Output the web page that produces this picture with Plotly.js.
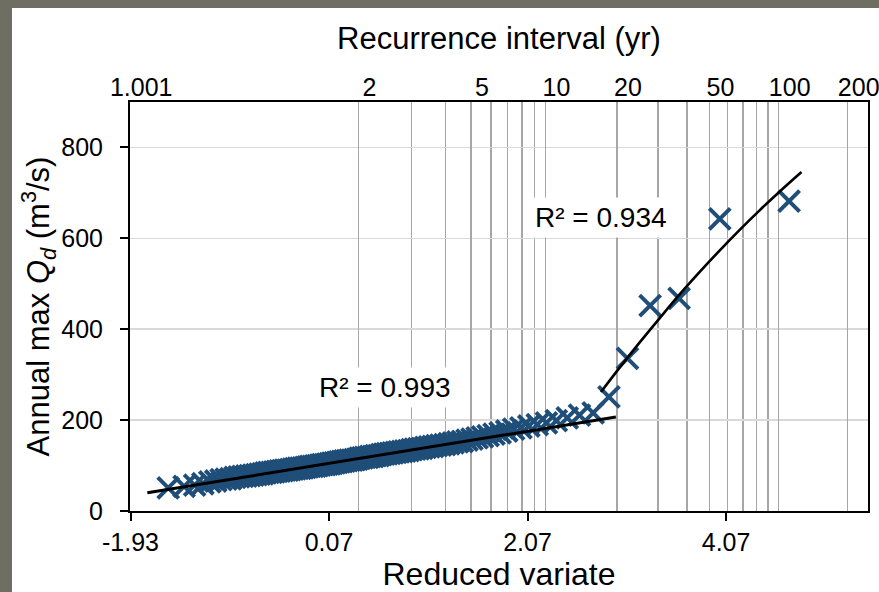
<!DOCTYPE html>
<html><head><meta charset="utf-8">
<script src="https://cdn.plot.ly/plotly-3.0.1.min.js"></script>
<style>
html,body{margin:0;padding:0;background:#6e6e62;width:879px;height:592px;overflow:hidden}
#chart{position:absolute;left:12px;top:8px;width:867px;height:584px;background:#fff}
</style></head><body><div id="chart"></div>
<script>
// Gumbel reduced variate of each ranked annual maximum
const reducedVariate = [-1.550,-1.390,-1.284,-1.201,-1.131,-1.071,-1.017,-0.967,-0.921,-0.878,
-0.838,-0.800,-0.763,-0.728,-0.694,-0.661,-0.629,-0.598,-0.568,-0.539,
-0.510,-0.482,-0.454,-0.426,-0.399,-0.373,-0.346,-0.320,-0.294,-0.269,
-0.243,-0.218,-0.193,-0.168,-0.143,-0.119,-0.094,-0.069,-0.045,-0.020,
0.004,0.029,0.053,0.078,0.102,0.127,0.152,0.176,0.201,0.226,
0.251,0.277,0.302,0.328,0.354,0.380,0.406,0.432,0.459,0.486,
0.513,0.541,0.568,0.597,0.625,0.654,0.684,0.713,0.744,0.774,
0.806,0.837,0.870,0.903,0.936,0.971,1.006,1.042,1.079,1.116,
1.155,1.195,1.236,1.278,1.321,1.366,1.412,1.460,1.510,1.562,
1.616,1.673,1.732,1.794,1.860,1.930,2.004,2.083,2.168,2.260,
2.360,2.470,2.593,2.731,2.890,3.077,3.305,3.597,4.007,4.705];
// Annual max discharge Qd (m3/s)
const annualMaxQ = [51,54,57,60,64,66,69,70,71,74,
75,76,77,78,79,80,81,82,84,85,
85,86,87,88,89,90,90,91,92,93,
94,94,95,96,97,98,98,99,100,101,
102,102,103,104,105,106,107,108,109,110,
111,112,112,113,114,116,117,118,118,120,
120,122,122,124,125,126,127,128,129,130,
131,132,133,135,136,137,138,140,141,142,
144,145,146,148,150,152,153,156,158,161,
163,166,169,172,176,180,183,187,190,194,
199,205,211,216,251,336,452,468,643,682];
// Trendlines
const lowerTrendX = [-1.76, 2.96];
const lowerTrendY = [40, 207];
const upperTrendX = [2.81, 3.0, 3.2, 3.4, 3.6, 3.8, 4.0, 4.2, 4.4, 4.6, 4.83];
const upperTrendY = [262, 316, 371, 424, 476, 525, 572, 617, 660, 701, 746];
const lowerR2Label = "R² = 0.993";
const upperR2Label = "R² = 0.934";
const lowerR2Pos = [0.63, 272];
const upperR2Pos = [2.81, 645];
// Axes
const bottomTicks = [-1.93, 0.07, 2.07, 4.07];
const yTicks = [0, 200, 400, 600, 800];
const recurrenceLabelled = [1.001, 2, 5, 10, 20, 50, 100, 200];
const recurrenceMinor = [3, 4, 6, 7, 8, 9, 30, 40, 60, 70, 80, 90];

const gumbel = T => -Math.log(-Math.log(1 - 1 / T));

const FONT = 'Liberation Sans, Arial, sans-serif';
const xRange = [-1.935, 5.5];
const GRID = '#a6a6a6';

const traces = [
  {x: reducedVariate, y: annualMaxQ, type: 'scatter', mode: 'markers',
   marker: {symbol: 'x-thin', size: 21, color: '#1f4e79', line: {color: '#1f4e79', width: 4}},
   showlegend: false, hoverinfo: 'x+y'},
  {x: lowerTrendX, y: lowerTrendY, type: 'scatter', mode: 'lines',
   line: {color: '#000', width: 3}, showlegend: false},
  {x: upperTrendX, y: upperTrendY, type: 'scatter', mode: 'lines',
   line: {color: '#000', width: 2.6, shape: 'spline'}, showlegend: false},
  // carrier so that the top (recurrence interval) axis is drawn
  {x: [null], y: [null], xaxis: 'x2', yaxis: 'y', type: 'scatter', mode: 'markers',
   showlegend: false, hoverinfo: 'skip'}
];

const layout = {
  width: 867, height: 584,
  margin: {l: 118, r: 11, t: 94, b: 81},
  paper_bgcolor: '#fff', plot_bgcolor: '#fff',
  font: {family: FONT, color: '#000', size: 25},
  showlegend: false,
  xaxis: {
    range: xRange, tickmode: 'array', tickvals: bottomTicks,
    ticktext: bottomTicks.map(v => v.toFixed(2)),
    ticks: 'outside', ticklen: 8, tickwidth: 2, tickcolor: '#000',
    showline: true, linewidth: 2, linecolor: '#000', mirror: true,
    showgrid: false, zeroline: false,
    tickfont: {size: 25, family: FONT},
    title: {text: 'Reduced variate', font: {size: 32, family: FONT}, standoff: 8}
  },
  xaxis2: {
    range: xRange, overlaying: 'x', side: 'top', anchor: 'y',
    tickmode: 'array', tickvals: recurrenceLabelled.map(gumbel),
    ticktext: recurrenceLabelled.map(String),
    ticks: '', showline: false, zeroline: false,
    showgrid: true, gridcolor: GRID, gridwidth: 1.5,
    minor: {tickmode: 'array', tickvals: recurrenceMinor.map(gumbel), ticks: '',
            showgrid: true, gridcolor: GRID, gridwidth: 1.5},
    tickfont: {size: 25, family: FONT}, ticklabelshift: 11, ticklabeloverflow: 'allow',
    title: {text: 'Recurrence interval (yr)', font: {size: 31, family: FONT}, standoff: 14}
  },
  yaxis: {
    range: [0, 900], tickmode: 'array', tickvals: yTicks,
    ticks: 'outside', ticklen: 8, tickwidth: 2, tickcolor: '#000',
    showline: true, linewidth: 2, linecolor: '#000', mirror: true,
    showgrid: true, gridcolor: '#d9d9d9', gridwidth: 1.5, zeroline: false,
    tickfont: {size: 25, family: FONT}, ticklabelstandoff: 12,
    title: {text: 'Annual max <i>Q<sub>d</sub></i> (m<sup>3</sup>/s)', font: {size: 31, family: FONT}, standoff: 2}
  },
  annotations: [
    {x: lowerR2Pos[0], y: lowerR2Pos[1], xref: 'x', yref: 'y', text: lowerR2Label,
     showarrow: false, bgcolor: '#fff', borderpad: 4, font: {size: 28, family: FONT}},
    {x: upperR2Pos[0], y: upperR2Pos[1], xref: 'x', yref: 'y', text: upperR2Label,
     showarrow: false, bgcolor: '#fff', borderpad: 4, font: {size: 28, family: FONT}}
  ]
};

Plotly.newPlot('chart', traces, layout, {displayModeBar: false, staticPlot: true});
</script></body></html>
